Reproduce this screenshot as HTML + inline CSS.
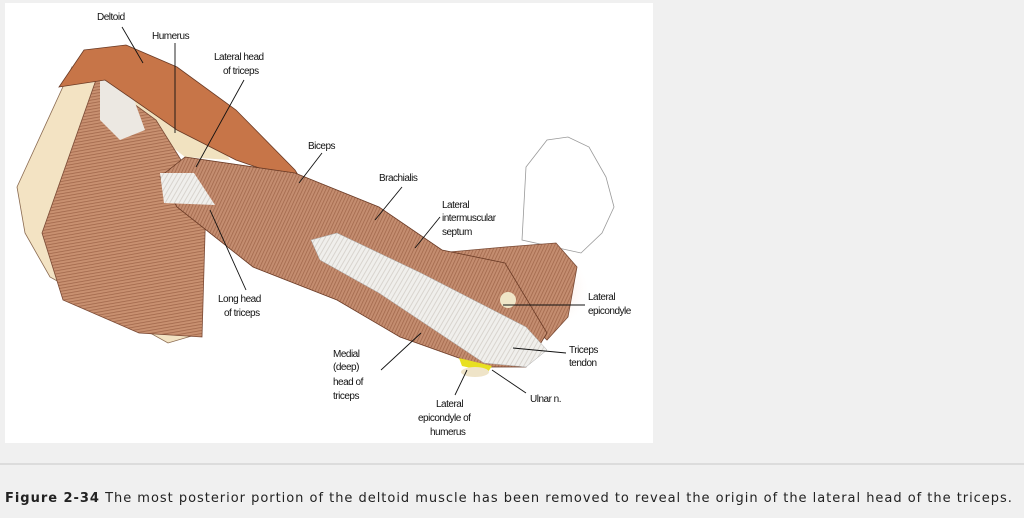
<!DOCTYPE html>
<html><head><meta charset="utf-8"><style>
html,body{margin:0;padding:0;background:#f0f0f0;width:1024px;height:518px;overflow:hidden;position:relative}
#img{position:absolute;left:5px;top:3px;width:648px;height:440px;background:#fff}
#hr{position:absolute;left:0;top:463px;width:1024px;height:2px;background:#dcdcdc}
#cap{position:absolute;left:5px;top:491px;font-family:"DejaVu Sans",sans-serif;font-size:13px;color:#222;letter-spacing:0.98px;white-space:nowrap}
svg text{font-family:"Liberation Sans",sans-serif;font-size:10px;fill:#111;letter-spacing:-0.5px}
</style></head><body>
<div id="img"></div>
<svg width="1024" height="518" style="position:absolute;left:0;top:0">
<defs>
<pattern id="fib" width="3" height="3" patternUnits="userSpaceOnUse" patternTransform="rotate(25)">
<rect width="3" height="3" fill="#c48d70"/><rect width="0.8" height="3" fill="#a2684c"/></pattern>
<pattern id="fib2" width="3" height="3" patternUnits="userSpaceOnUse" patternTransform="rotate(80)">
<rect width="3" height="3" fill="#c89070"/><rect width="0.8" height="3" fill="#a0664a"/></pattern>
<pattern id="wt" width="4" height="4" patternUnits="userSpaceOnUse" patternTransform="rotate(30)">
<rect width="4" height="4" fill="#f0efec"/><rect width="1" height="4" fill="#d8d4ce"/></pattern>
<radialGradient id="pk" cx="0.5" cy="0.5" r="0.5"><stop offset="0" stop-color="#f2b9a0"/><stop offset="1" stop-color="#fff" stop-opacity="0"/></radialGradient>
</defs>
<polygon points="72,67 17,187 25,233 50,277 168,343 202,333 198,200 126,100" fill="#f3e3c3" stroke="#8a6a50" stroke-width="0.8"/>
<polygon points="120,70 200,110 230,160 185,157 150,130 110,90" fill="#f1e2c0"/>
<polygon points="97,77 42,233 63,300 139,333 202,337 206,200 156,120" fill="url(#fib2)" stroke="#7a4a35" stroke-width="0.8"/>
<polygon points="100,80 125,75 145,130 120,140 100,120" fill="#ece8e2"/>
<polygon points="59,87 84,50 126,45 177,67 236,110 295,170 303,183 236,160 177,130 105,80" fill="#c77548" stroke="#6a3a25" stroke-width="0.8"/>
<ellipse cx="545" cy="290" rx="45" ry="40" fill="url(#pk)"/>
<polygon points="522,240 526,167 547,140 568,137 589,147 606,177 614,207 602,233 581,253" fill="#fff" stroke="#999" stroke-width="0.8"/>
<polygon points="438,253 505,247 556,243 577,267 568,317 547,340 505,300" fill="url(#fib)" stroke="#7a4a35" stroke-width="0.8"/>
<polygon points="185,157 295,173 379,207 442,250 505,263 547,333 526,367 484,367 400,337 337,300 253,267 177,207 160,177" fill="url(#fib)" stroke="#6a3a25" stroke-width="0.8"/>
<polygon points="160,173 194,173 215,205 164,203" fill="url(#wt)"/>
<polygon points="311,240 337,233 421,273 526,327 547,350 526,367 484,363 379,293 320,260" fill="url(#wt)" stroke="#aaa" stroke-width="0.5"/>
<circle cx="508" cy="300" r="8" fill="#f0e6c8"/>
<polygon points="459,358 492,366 488,372 462,366" fill="#e8e020"/>
<ellipse cx="475" cy="372" rx="14" ry="5" fill="#efe4c8"/>
<g stroke="#111" stroke-width="0.9" fill="none">
<line x1="122" y1="27" x2="143" y2="63"/><line x1="175" y1="43" x2="175" y2="133"/>
<line x1="244" y1="80" x2="196" y2="167"/><line x1="322" y1="153" x2="299" y2="183"/>
<line x1="402" y1="187" x2="375" y2="220"/><line x1="440" y1="217" x2="415" y2="248"/>
<line x1="246" y1="290" x2="210" y2="210"/><line x1="585" y1="305" x2="503" y2="305"/>
<line x1="381" y1="370" x2="421" y2="333"/><line x1="566" y1="353" x2="513" y2="348"/>
<line x1="526" y1="393" x2="492" y2="370"/><line x1="455" y1="395" x2="467" y2="370"/>
</g>
<text x="97" y="20">Deltoid</text>
<text x="152" y="39">Humerus</text>
<text x="214" y="60">Lateral head</text><text x="223" y="74">of triceps</text>
<text x="308" y="149">Biceps</text>
<text x="379" y="181">Brachialis</text>
<text x="442" y="208">Lateral</text><text x="442" y="221">intermuscular</text><text x="442" y="235">septum</text>
<text x="218" y="302">Long head</text><text x="224" y="316">of triceps</text>
<text x="588" y="300">Lateral</text><text x="588" y="314">epicondyle</text>
<text x="333" y="357">Medial</text><text x="333" y="370">(deep)</text><text x="333" y="385">head of</text><text x="333" y="399">triceps</text>
<text x="569" y="353">Triceps</text><text x="569" y="366">tendon</text>
<text x="530" y="402">Ulnar n.</text>
<text x="436" y="407">Lateral</text><text x="418" y="421">epicondyle of</text><text x="430" y="435">humerus</text>
</svg>
<div id="hr"></div>
<div id="cap"><b>Figure 2-34</b> The most posterior portion of the deltoid muscle has been removed to reveal the origin of the lateral head of the triceps.</div>
</body></html>
